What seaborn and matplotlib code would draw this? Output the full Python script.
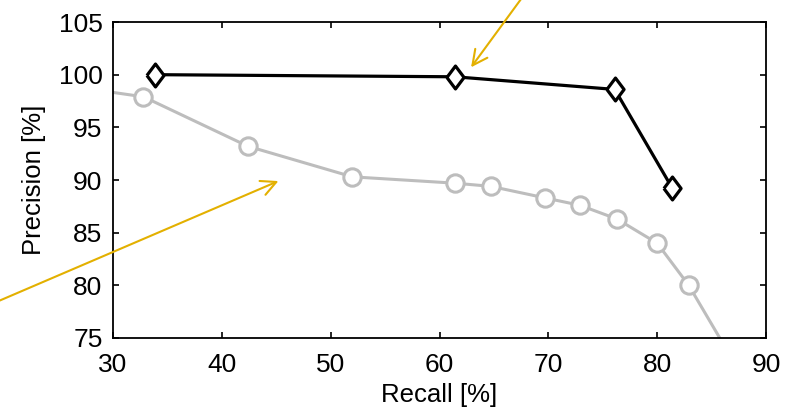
import numpy as np
import seaborn as sns
import matplotlib.pyplot as plt

# gray curve (circles); first and last points lie outside the axes and get clipped
gray_recall = [22.0, 32.8, 42.4, 52.0, 61.4, 64.7, 69.7, 72.9, 76.3, 80.0, 82.9, 88.6]
gray_precision = [99.5, 97.9, 93.2, 90.3, 89.7, 89.4, 88.3, 87.6, 86.3, 84.0, 80.0, 70.0]

# black curve (diamonds)
black_recall = [33.9, 61.4, 76.1, 81.4]
black_precision = [100.0, 99.8, 98.6, 89.2]

x_ticks = [30, 40, 50, 60, 70, 80, 90]
y_ticks = [75, 80, 85, 90, 95, 100, 105]

sns.set_theme(style='ticks')
plt.rcParams['font.family'] = ['Liberation Sans', 'DejaVu Sans']

fig = plt.figure(figsize=(7.92, 4.09), dpi=100)
ax = fig.add_axes([0.1427, 0.1736, 0.8245, 0.7726])

gray_end = len(gray_recall) - 1  # line over whole range, markers only on inner points
sns.lineplot(x=gray_recall, y=gray_precision, ax=ax, sort=False, estimator=None,
             color='#bdbdbd', linewidth=2.2, marker='o', markersize=12.5,
             markerfacecolor='white', markeredgecolor='#bdbdbd', markeredgewidth=2.2,
             markevery=list(range(1, gray_end)), clip_on=True)

diamond = [(-0.75, 0), (0, 1), (0.75, 0), (0, -1), (-0.75, 0)]
sns.lineplot(x=black_recall, y=black_precision, ax=ax, sort=False, estimator=None,
             color='black', linewidth=2.3, marker=diamond, markersize=16.5,
             markerfacecolor='white', markeredgecolor='black', markeredgewidth=2.3,
             clip_on=False, zorder=5)

ax.set_xlim(30, 90)
ax.set_ylim(75, 105)
ax.set_xticks(x_ticks)
ax.set_yticks(y_ticks)
ax.tick_params(direction='in', length=4.5, width=1.2, top=True, right=True,
               labelsize=19, colors='black')
ax.tick_params(axis='x', pad=11)
ax.tick_params(axis='y', pad=7.5)
for s in ax.spines.values():
    s.set_linewidth(1.3)
    s.set_color('black')

ax.set_xlabel('Recall [%]', fontsize=18.5, color='black', labelpad=4)
ax.set_ylabel('Precision [%]', fontsize=18.5, color='black', labelpad=9)

arrow_color = '#e3b000'
# arrow from the lower left, pointing at the gray curve
ax.annotate('', xy=(45.2, 89.9), xycoords='data',
            xytext=(-6, 409 - 303), textcoords='figure pixels',
            arrowprops=dict(arrowstyle='->,head_length=0.9,head_width=0.45',
                            color=arrow_color, lw=1.5, shrinkA=0, shrinkB=0))
# arrow from the top, pointing at the black curve
ax.annotate('', xy=(62.9, 100.7), xycoords='data',
            xytext=(524, 409 + 5), textcoords='figure pixels',
            arrowprops=dict(arrowstyle='->,head_length=0.9,head_width=0.45',
                            color=arrow_color, lw=1.5, shrinkA=0, shrinkB=0))

fig.savefig('out.png', dpi=100)
